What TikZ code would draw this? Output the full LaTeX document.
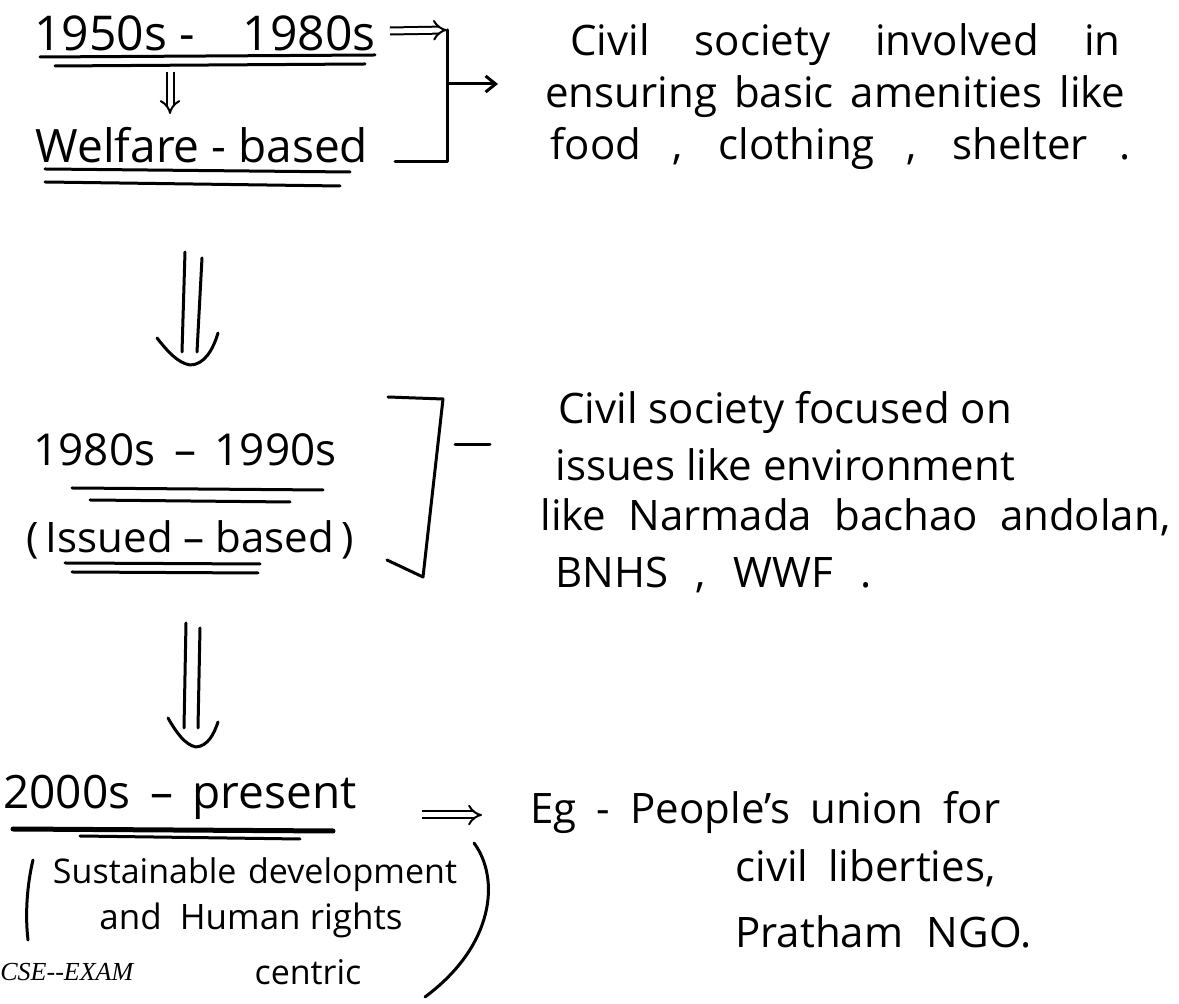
\documentclass[tikz,border=0pt]{standalone}
\usepackage{fontspec}
\setmainfont{Open Sans}
\newfontfamily\examfont{Liberation Serif}
\usetikzlibrary{arrows.meta}
\newcommand{\spread}[2]{\makebox[#1][s]{#2}}
\tikzset{
  hand/.style={font=\fontsize{21}{25}\selectfont, inner sep=0pt},
  rline/.style={hand, anchor=west},
  pen/.style={line width=1.5pt, line cap=round, line join=round},
  dblarrow/.style={line width=1pt, double, double distance=2.5pt, -{Implies}},
}
\begin{document}
\begin{tikzpicture}[x=0.5pt,y=-0.5pt]
\useasboundingbox (0,0) rectangle (1179,1004);

% ---------- stage 1 ----------
\node[font=\fontsize{24}{28}\selectfont, inner sep=0pt] (n1) at (205,33) {1950s -\quad 1980s};
\draw[pen] (40,57) -- (375,55);
\draw[pen] (55,66) -- (365,64);
\node[font=\fontsize{23}{27}\selectfont, inner sep=0pt] (n2) at (202,145) {Welfare - based};
\draw[pen] (45,169) -- (350,172);
\draw[pen] (45,182) -- (340,186);
\draw[dblarrow] (170,72) -- (170,114);

% bracket 1
\coordinate (b1top) at (447,30);
\coordinate (b1bot) at (447,162);
\draw[pen] (395,162) -- (b1bot) -- (b1top);
\draw[dblarrow] (390,31) -- (b1top);
\coordinate (b1out) at (498,84);
\draw[pen, -{Straight Barb[length=5pt,width=8pt]}] (449,84) -- (b1out);

\node[rline] (t1a) at (570,45) {\spread{275pt}{Civil society involved in}};
\node[rline] (t1b) at (545,97) {\spread{290pt}{ensuring basic amenities like}};
\node[rline] (t1c) at (550,148) {\spread{290pt}{food , clothing , shelter .}};

% big arrow 1
\coordinate (a1e) at (190,365);
\draw[pen] (185,252) -- (182,352);
\draw[pen] (202,258) -- (197,352);
\draw[pen] (157,338) .. controls (168,352) and (178,363) .. (a1e) .. controls (204,365) and (213,350) .. (218,333);

% ---------- stage 2 ----------
\node[font=\fontsize{22}{26}\selectfont, inner sep=0pt] (n3) at (185,450) {1980s \,--\, 1990s};
\draw[pen] (72,488) -- (323,490);
\draw[pen] (90,500) -- (290,502);
\node[font=\fontsize{21}{25}\selectfont, inner sep=0pt] (n4) at (190,540) {(\,Issued -- based\,)};
\draw[pen] (65,563) -- (260,564);
\draw[pen] (72,572) -- (258,573);

% bracket 2
\draw[pen] (388,397) -- (443,399) -- (423,577) -- (387,560);
\coordinate (b2out) at (490,445);
\draw[pen] (455,445) -- (b2out);

\node[rline] (t2a) at (558,412) {Civil society focused on};
\node[rline] (t2b) at (555,465) {issues like environment};
\node[rline] (t2c) at (540,517) {\spread{315pt}{like Narmada bachao andolan,}};
\node[rline] (t2d) at (555,575) {\spread{158pt}{BNHS , WWF .}};

% big arrow 2
\coordinate (a2e) at (196,747);
\draw[pen] (186,623) -- (184,728);
\draw[pen] (200,628) -- (198,728);
\draw[pen] (168,718) .. controls (176,732) and (185,745) .. (a2e) .. controls (208,746) and (214,734) .. (218,722);

% ---------- stage 3 ----------
\node[font=\fontsize{23}{27}\selectfont, inner sep=0pt] (n5) at (180,797) {2000s \,--\, present};
\draw[line width=2.5pt, line cap=round] (13,829) -- (333,831);
\draw[pen] (80,836) -- (300,839);

\draw[dblarrow] (422,815) -- (482,815);
\node[rline] (t3a) at (530,812) {\spread{235pt}{Eg - People's union for}};
\node[rline] (t3b) at (735,868) {\spread{130pt}{civil liberties,}};
\node[rline] (t3c) at (735,932) {\spread{148pt}{Pratham NGO.}};

\node[font=\fontsize{17}{21}\selectfont, inner sep=0pt] (s1) at (255,875) {\spread{202pt}{Sustainable development}};
\node[font=\fontsize{17.5}{21}\selectfont, inner sep=0pt] (s2) at (251,920) {and\ \ Human rights};
\node[font=\fontsize{17}{20}\selectfont, inner sep=0pt] (s3) at (308,972) {centric};
\draw[pen] (33,860) .. controls (27,885) and (25,915) .. (28,940);
\draw[pen] (474,843) .. controls (500,878) and (495,945) .. (425,997);

\node[font=\examfont\itshape\fontsize{13}{15}\selectfont, anchor=west, inner sep=0pt] (cse) at (0,972) {CSE--EXAM};
\end{tikzpicture}
\end{document}
